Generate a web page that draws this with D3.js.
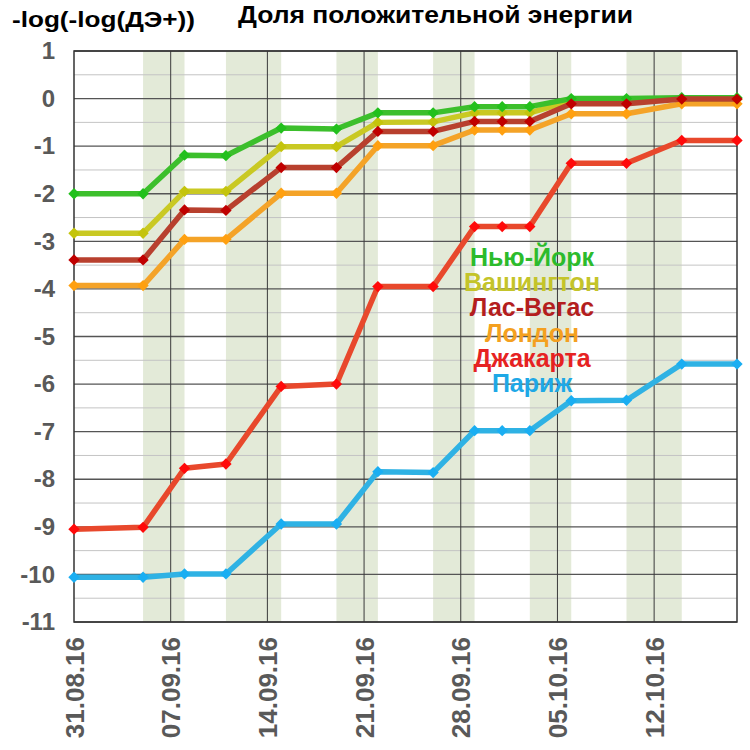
<!DOCTYPE html>
<html>
<head>
<meta charset="utf-8">
<script src="https://cdn.jsdelivr.net/npm/d3@7"></script>
<style>
    body { margin: 0; background: #fff; }
    svg text { font-family: "Liberation Sans", Arial, sans-serif; font-weight: bold; }
</style>
</head>
<body>
<div id="ChartWrapper"></div>
<script>
// Measurement dates (one point per series on each)
const Dates = ["2016-08-31", "2016-09-05", "2016-09-08", "2016-09-11", "2016-09-15",
               "2016-09-19", "2016-09-22", "2016-09-26", "2016-09-29", "2016-10-01",
               "2016-10-03", "2016-10-06", "2016-10-10", "2016-10-14", "2016-10-18"];

const Cities = ["Нью-Йорк", "Вашингтон", "Лас-Вегас", "Лондон", "Джакарта", "Париж"];

const NewYork    = [-2.0, -2.0, -1.19, -1.2, -0.62, -0.64, -0.3, -0.3, -0.17, -0.17, -0.17, 0.0, 0.0, 0.02, 0.02];
const Washington = [-2.83, -2.83, -1.95, -1.95, -1.01, -1.01, -0.5, -0.49, -0.3, -0.3, -0.3, -0.05, -0.05, -0.01, -0.01];
const LasVegas   = [-3.39, -3.39, -2.34, -2.35, -1.45, -1.45, -0.69, -0.69, -0.48, -0.48, -0.48, -0.11, -0.11, -0.01, -0.01];
const London     = [-3.93, -3.93, -2.96, -2.96, -1.99, -1.99, -0.99, -0.99, -0.66, -0.66, -0.66, -0.32, -0.32, -0.11, -0.11];
const Jakarta    = [-9.05, -9.01, -7.77, -7.68, -6.05, -6.0, -3.95, -3.95, -2.69, -2.69, -2.69, -1.36, -1.36, -0.88, -0.88];
const Paris      = [-10.06, -10.06, -9.99, -9.99, -8.94, -8.94, -7.84, -7.86, -6.98, -6.98, -6.98, -6.35, -6.34, -5.58, -5.58];

// Shaded intervals
const Bands = [["2016-09-05", "2016-09-08"], ["2016-09-11", "2016-09-15"],
               ["2016-09-19", "2016-09-22"], ["2016-09-26", "2016-09-29"],
               ["2016-10-03", "2016-10-06"], ["2016-10-10", "2016-10-14"]];

const TickDates = ["2016-08-31", "2016-09-07", "2016-09-14", "2016-09-21",
                   "2016-09-28", "2016-10-05", "2016-10-12"];
const YTicks = d3.range(-11, 2);

const Colors = {
    "Нью-Йорк":  {line: "#3cbf2c", mark: "#22c01c", text: "#2cbb2c"},
    "Вашингтон": {line: "#c9c923", mark: "#c4c40c", text: "#c4c42a"},
    "Лас-Вегас": {line: "#b8402e", mark: "#c00000", text: "#b41e1e"},
    "Лондон":    {line: "#f4a328", mark: "#ffa010", text: "#f4a020"},
    "Джакарта":  {line: "#e8482c", mark: "#ff0a0a", text: "#e62222"},
    "Париж":     {line: "#2fb2e4", mark: "#1aaef2", text: "#1ea8e6"}
};

const Values = {"Нью-Йорк": NewYork, "Вашингтон": Washington, "Лас-Вегас": LasVegas,
                "Лондон": London, "Джакарта": Jakarta, "Париж": Paris};

// back to front
const DrawOrder = ["Париж", "Джакарта", "Лондон", "Вашингтон", "Нью-Йорк", "Лас-Вегас"];

const Width = 750, Height = 750;
const Margin = {top: 51, right: 13, bottom: 128, left: 74};
const WidthInner = Width - Margin.left - Margin.right;
const HeightInner = Height - Margin.top - Margin.bottom;

const ParseDate = d3.utcParse("%Y-%m-%d");
const FormatTick = d3.utcFormat("%d.%m.%y");

let ScaleX = d3.scaleUtc().range([0, WidthInner])
    .domain([ParseDate(Dates[0]), ParseDate(Dates[Dates.length - 1])]);
let ScaleY = d3.scaleLinear().range([HeightInner, 0]).domain([-11, 1]);

let Canvas = d3.select("#ChartWrapper").append("svg")
    .attr("width", Width).attr("height", Height);

let Plot = Canvas.append("g")
    .attr("transform", `translate(${Margin.left}, ${Margin.top})`);

Plot.append("g").selectAll("rect").data(Bands).join("rect")
    .attr("x", b => ScaleX(ParseDate(b[0])))
    .attr("width", b => ScaleX(ParseDate(b[1])) - ScaleX(ParseDate(b[0])))
    .attr("y", 0).attr("height", HeightInner)
    .attr("fill", "#e3ead8");

// minor grid at half units
Plot.append("g").selectAll("line").data(YTicks.slice(0, -1).map(v => v + 0.5)).join("line")
    .attr("x1", 0).attr("x2", WidthInner)
    .attr("y1", v => ScaleY(v)).attr("y2", v => ScaleY(v))
    .attr("stroke", "#c4c4c4").attr("stroke-width", 1);

// major grid
Plot.append("g").selectAll("line").data(YTicks).join("line")
    .attr("x1", 0).attr("x2", WidthInner)
    .attr("y1", v => ScaleY(v)).attr("y2", v => ScaleY(v))
    .attr("stroke", "#555").attr("stroke-width", 1.3);

Plot.append("g").selectAll("line").data(TickDates.slice(1)).join("line")
    .attr("x1", d => ScaleX(ParseDate(d))).attr("x2", d => ScaleX(ParseDate(d)))
    .attr("y1", 0).attr("y2", HeightInner)
    .attr("stroke", "#3a3a3a").attr("stroke-width", 1);

Plot.append("rect").attr("width", WidthInner).attr("height", HeightInner)
    .attr("fill", "none").attr("stroke", "#333").attr("stroke-width", 1.5);

// Axes with d3, then restyled to the Excel look (plain hyphen for minus)
let AxisY = d3.axisLeft(ScaleY).tickValues(YTicks).tickSize(0).tickPadding(19)
    .tickFormat(v => String(v));
let AxisX = d3.axisBottom(ScaleX).tickValues(TickDates.map(ParseDate))
    .tickFormat(FormatTick).tickSize(0);

let GY = Plot.append("g").call(AxisY);
GY.select(".domain").remove();
GY.selectAll("text").attr("font-size", 24).attr("fill", "#595959")
    .attr("font-family", "Liberation Sans, Arial, sans-serif");

let GX = Plot.append("g").attr("transform", `translate(0, ${HeightInner})`).call(AxisX);
GX.select(".domain").remove();
GX.selectAll("text").attr("font-size", 26).attr("fill", "#595959")
    .attr("font-family", "Liberation Sans, Arial, sans-serif")
    .attr("text-anchor", "end").attr("dy", "0.35em")
    .attr("transform", "translate(0, 15) rotate(-90)")
    .attr("x", 0).attr("y", 0);

let Line = d3.line()
    .x((v, i) => ScaleX(ParseDate(Dates[i])))
    .y(v => ScaleY(v));
let Diamond = d3.symbol(d3.symbolSquare, 64);

DrawOrder.forEach(city => {
    let Series = Plot.append("g");
    Series.append("path").attr("d", Line(Values[city]))
        .attr("fill", "none").attr("stroke", Colors[city].line)
        .attr("stroke-width", 5.5).attr("stroke-linejoin", "round");
    Series.selectAll("path.mark").data(Values[city]).join("path")
        .attr("class", "mark").attr("d", Diamond)
        .attr("transform", (v, i) => `translate(${ScaleX(ParseDate(Dates[i]))}, ${ScaleY(v)}) rotate(45)`)
        .attr("fill", Colors[city].mark);
});

// Legend text block
Canvas.append("g").selectAll("text").data(Cities).join("text")
    .attr("x", 532).attr("y", (c, i) => 266 + i * 25.2)
    .attr("text-anchor", "middle").attr("font-size", 25)
    .attr("fill", c => Colors[c].text).text(c => c);

Canvas.append("text").attr("x", 12).attr("y", 27)
    .attr("font-size", 22).attr("textLength", 183).attr("lengthAdjust", "spacingAndGlyphs")
    .attr("fill", "#000").text("-log(-log(ДЭ+))");

Canvas.append("text").attr("x", 238).attr("y", 23)
    .attr("font-size", 24).attr("textLength", 395).attr("lengthAdjust", "spacingAndGlyphs")
    .attr("fill", "#000").text("Доля положительной энергии");
</script>
</body>
</html>
